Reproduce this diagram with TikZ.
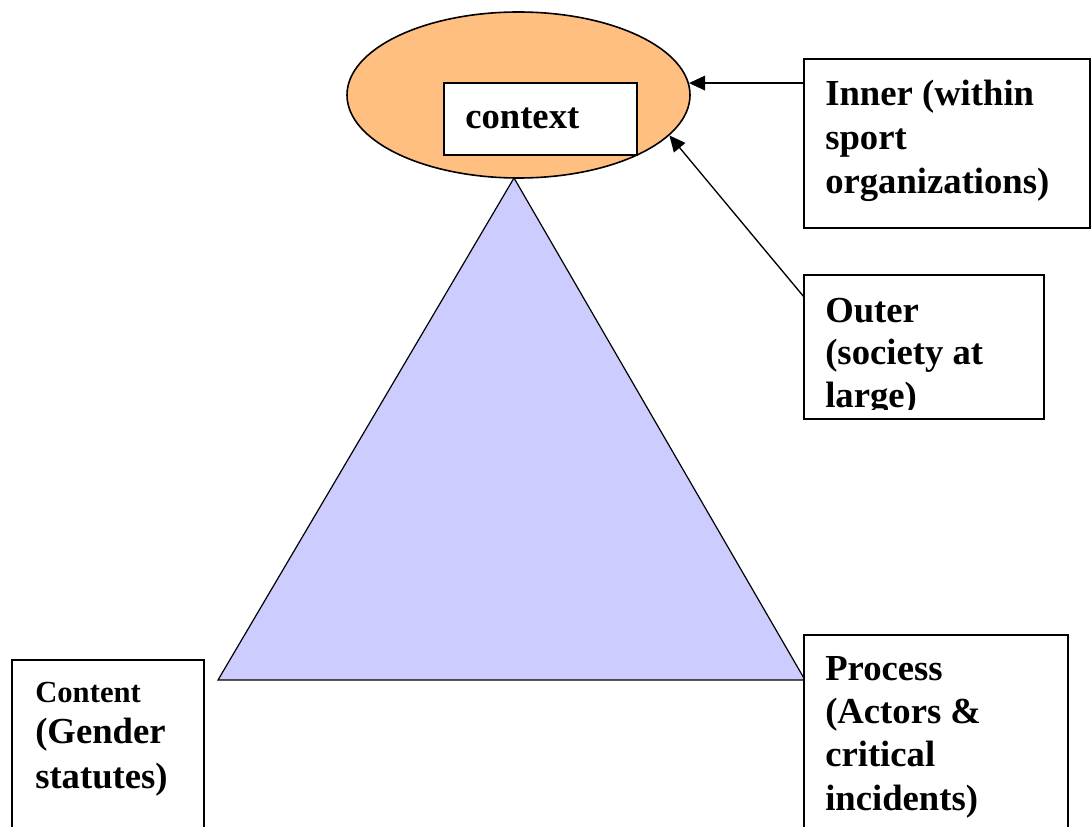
\documentclass[tikz,border=0pt]{standalone}
\usepackage{fontspec}
\setmainfont{Liberation Serif}
\usetikzlibrary{shapes.geometric,arrows.meta}
\definecolor{ellfill}{RGB}{255,191,128}
\definecolor{trifill}{RGB}{204,204,255}
\tikzset{
  boxline/.style={draw=black, line width=1.2pt, fill=white},
  ellstyle/.style={ellipse, draw=black, line width=1.2pt, fill=ellfill,
    minimum width=257.25pt, minimum height=124.5pt, inner sep=0pt},
  lbl/.style={inner sep=0pt, align=left, font=\bfseries\fontsize{27.5}{33}\selectfont},
  lblo/.style={inner sep=0pt, align=left, font=\bfseries\fontsize{27.5}{32}\selectfont},
  lblp/.style={inner sep=0pt, align=left, font=\bfseries\fontsize{27.5}{32.5}\selectfont},
  arr/.style={draw=black, line width=1pt, -{Triangle[length=12pt,width=11pt]}},
}
\begin{document}
\begin{tikzpicture}[x=0.75pt,y=-0.75pt]
\useasboundingbox (0,0) rectangle (1092,827);
\clip (0,0) rectangle (1092,827);
% triangle
\coordinate (apex) at (514,178);
\coordinate (bl) at (218,680);
\coordinate (br) at (805,680);
\filldraw[fill=trifill, draw=black, line width=0.9pt, line join=miter] (apex) -- (br) -- (bl) -- cycle;
% ellipse with context box
\node[ellstyle] (ell) at (518.5,95) {};
\draw[boxline] (444,83) rectangle (637,155);
\node[anchor=base west, inner sep=0pt, font=\bfseries\fontsize{27.5}{32}\selectfont] (ctx) at (465,129) {context};
% inner box
\draw[boxline] (804,59) rectangle (1090,228);
\coordinate (innw) at (804,59);
\node[lbl, anchor=north west] (inner) at (825,74.2) {\strut Inner (within\\sport\\organizations)};
% outer box
\draw[boxline] (804,275) rectangle (1044,419);
\coordinate (outc) at (804,297);
\begin{scope}
\clip (804,275) rectangle (1044,409);
\node[lblo, anchor=north west] (outer) at (825,292.1) {\strut Outer\\(society at\\large)};
\end{scope}
% content box
\draw[boxline] (12,660) rectangle (204,840);
\node[anchor=base west, inner sep=0pt, font=\bfseries\fontsize{23}{28}\selectfont] (content) at (35,702) {Content};
\node[anchor=north west, inner sep=0pt, align=left, font=\bfseries\fontsize{27.5}{34}\selectfont] (gender) at (35,711.3) {\strut(Gender\\statutes)};
% process box
\draw[boxline] (804,635) rectangle (1068,840);
\node[lblp, anchor=north west] (process) at (825,649.7) {\strut Process\\(Actors \&\\critical\\incidents)};
% arrows
\draw[arr] (innw |- ell.4) -- (ell.4);
\draw[arr] (outc) -- (ell.-15);
\end{tikzpicture}
\end{document}
